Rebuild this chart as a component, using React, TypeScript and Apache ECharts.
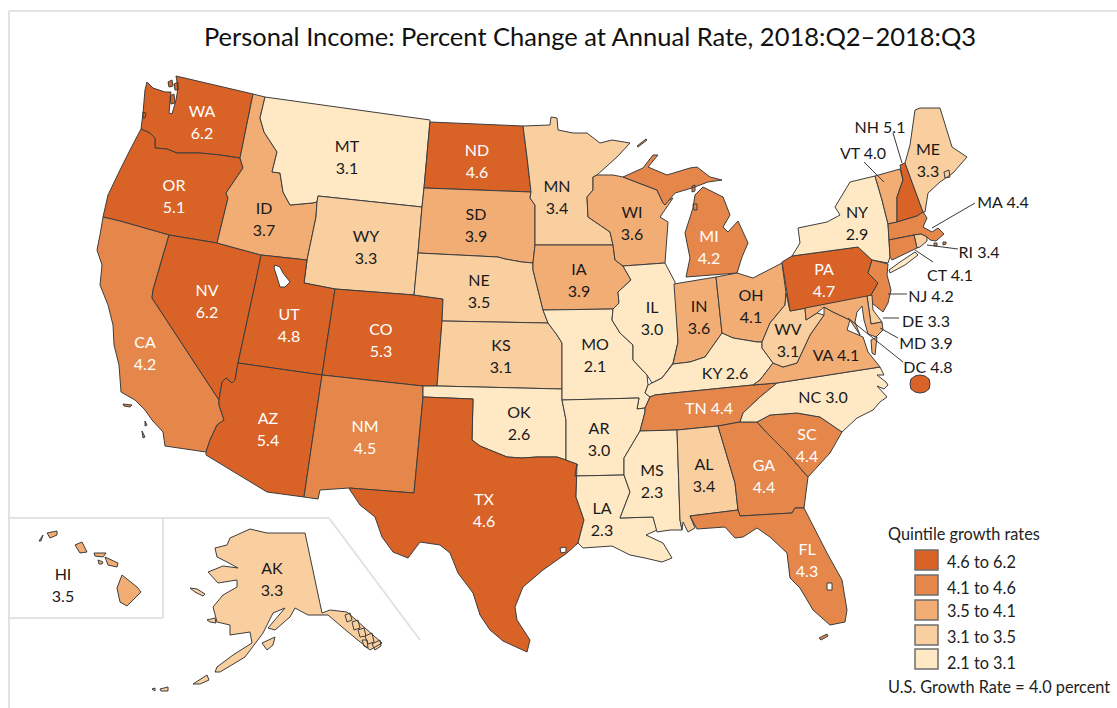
import React, { useEffect, useRef } from "react";
import * as echarts from "echarts";

const FONT = "Lato, 'Open Sans', sans-serif";
const titleText = "Personal Income: Percent Change at Annual Rate, 2018:Q2–2018:Q3";
const legendTitle = "Quintile growth rates";
const legendNote = "U.S. Growth Rate = 4.0 percent";
const quintileLabels = ["4.6 to 6.2", "4.1 to 4.6", "3.5 to 4.1", "3.1 to 3.5", "2.1 to 3.1"];
const quintileColors = ["#D96227", "#E5874B", "#F2AD75", "#F9CFA0", "#FFE9C5"];
const quintileText = ["#FFFFFF", "#FFFFFF", "#1A1A1A", "#1A1A1A", "#1A1A1A"];

const stateCodes = ["WA","OR","CA","NV","ID","MT","WY","UT","AZ","CO","NM","ND","SD","NE","KS","OK","TX","MN","IA","MO","AR","LA","WI","IL","MI","IN","OH","KY","TN","MS","AL","GA","FL","SC","NC","VA","WV","PA","NY","VT","NH","ME","MA","RI","CT","NJ","DE","MD","DC","AK","HI"];
const stateRates = ["6.2","5.1","4.2","6.2","3.7","3.1","3.3","4.8","5.4","5.3","4.5","4.6","3.9","3.5","3.1","2.6","4.6","3.4","3.9","2.1","3.0","2.3","3.6","3.0","4.2","3.6","4.1","2.6","4.4","2.3","3.4","4.4","4.3","4.4","3.0","4.1","3.1","4.7","2.9","4.0","5.1","3.3","4.4","3.4","4.1","4.2","3.3","3.9","4.8","3.3","3.5"];
const stateQuintiles = [0,0,1,0,2,4,3,0,0,0,1,0,2,3,3,4,0,3,2,4,4,4,2,4,1,2,2,4,1,4,3,1,1,1,4,2,3,0,4,2,0,3,1,3,1,1,3,2,0,3,2];
const oneLineStates = ["KY","VA","TN","NC","NH","VT","MA","RI","CT","NJ","DE","MD","DC"];

// Outline geometry of the map, in picture units: state -> polygons -> rings (first ring outer, others holes).
const P = (...a: number[]) => { const r: number[][] = []; for (let i = 0; i < a.length; i += 2) r.push([a[i], a[i + 1]]); return r; };
const shapes: Record<string, number[][][][]> = {
  WA: [[P(147,82,153,88,165,92,171,92,169,113,172,114,176,100,178,88,176,76,253,94,240,158,220,155,200,153,177,153,167,149,155,148,155,138,150,133,141,129,143,113,145,90)],[P(168,82,172,80,173,86,169,87)],[P(174,84,178,82,178,90,175,90)],[P(170,96,174,94,175,103,171,104)],[P(143,112,146,113,145,118,143,118)]],
  OR: [[P(141,129,150,133,155,138,155,148,167,149,177,153,200,153,220,155,240,158,243,168,226,193,228,198,217,243,169,235,120,221,103,217,108,195,120,170,130,150)]],
  CA: [[P(103,217,120,221,169,235,153,290,152,298,219,400,219,405,224,420,217,425,210,440,206,452,165,446,163,432,152,420,145,410,135,400,121,392,119,365,114,345,113,325,108,305,100,285,102,265,97,250,100,235)],[P(123,404,132,405,130,407,124,406)],[P(145,421,147,425,145,426)],[P(142,431,145,437,143,438)]],
  NV: [[P(169,235,217,243,261,255,256,280,238,363,235,380,232,383,226,378,222,382,219,400,152,298,153,290)]],
  ID: [[P(253,94,265,97,260,118,264,132,277,152,272,172,280,173,283,192,290,205,312,203,317,202,316,217,307,260,261,255,217,243,228,198,226,193,243,168,240,158)]],
  MT: [[P(265,97,430,120,424,188,422,207,318,196,317,202,312,203,290,205,283,192,280,173,272,172,277,152,264,132,260,118)]],
  WY: [[P(318,196,422,207,418,253,414,295,335,289,304,283,307,260,316,217,317,202)]],
  UT: [[P(261,255,307,260,304,283,335,289,322,375,238,363,256,280),P(275,265,280,267,283,273,290,282,285,287,280,287,277,277,274,268)]],
  AZ: [[P(238,363,322,375,304,497,267,492,206,455,206,452,210,440,217,425,224,420,219,405,219,400,222,382,226,378,232,383,235,380)]],
  CO: [[P(335,289,414,295,443,299,442,321,437,386,423,386,322,375)]],
  NM: [[P(322,375,423,386,423,397,414,493,349,488,320,490,318,499,304,497)]],
  ND: [[P(430,122,523,126,527,157,531,192,424,188)]],
  SD: [[P(424,188,531,192,530,198,535,205,535,245,533,263,522,262,505,259,498,257,418,253,422,207)]],
  NE: [[P(418,253,498,257,505,259,522,262,533,263,533,270,538,290,543,310,548,323,442,321,443,299,414,295)]],
  KS: [[P(442,321,548,323,557,335,562,343,562,389,437,386)]],
  OK: [[P(423,386,437,386,562,389,562,400,566,420,566,460,557,457,537,457,522,458,507,457,480,446,472,440,473,399,423,397)]],
  TX: [[P(423,397,473,399,472,440,480,446,507,457,522,458,537,457,557,457,566,460,577,464,576,497,584,520,578,543,567,553,543,570,523,587,515,607,517,620,530,640,527,652,503,641,490,630,480,615,473,593,458,573,450,553,440,545,420,542,408,558,393,552,382,537,375,517,360,505,350,490,349,488,414,493),P(560,548,566,547,566,552,561,553)]],
  MN: [[P(523,126,550,125,551,117,557,118,558,130,573,133,587,133,600,143,612,140,630,143,617,157,597,175,593,177,593,190,587,197,588,217,610,232,613,245,535,245,535,205,530,198,531,192,527,157)]],
  IA: [[P(535,245,613,245,615,260,623,266,631,280,618,292,619,303,613,309,543,310,538,290,533,270,533,263)]],
  MO: [[P(543,310,613,309,612,320,620,333,633,345,633,360,647,375,648,385,645,393,650,397,645,408,637,409,639,398,562,400,562,389,562,343,557,335,548,323)]],
  AR: [[P(562,400,639,398,637,409,645,408,645,412,640,431,624,458,624,475,575,476,577,464,566,460,566,420)]],
  LA: [[P(575,476,624,475,630,492,620,518,653,517,657,530,646,535,663,543,672,558,662,562,645,558,630,555,612,546,583,548,578,543,584,520,576,497,577,464)]],
  WI: [[P(597,175,613,175,623,177,657,190,663,203,673,198,660,217,668,222,665,263,623,266,615,260,613,245,610,232,588,217,587,197,593,190,593,177)]],
  IL: [[P(623,266,665,263,675,282,678,342,673,363,662,378,652,383,647,375,633,360,633,345,620,333,612,320,613,309,619,303,618,292,631,280)]],
  MI: [[P(623,177,643,168,653,155,658,155,648,167,667,175,690,168,697,167,710,177,722,180,708,182,692,188,675,193,665,205,663,203,657,190)],[P(703,187,723,197,730,215,723,227,728,232,738,221,748,243,742,257,737,273,686,277,690,258,685,233,693,208,695,195)],[P(637,146,646,139,647,140,638,147)],[P(692,186,695,185,695,191,692,192)],[P(693,204,697,204,697,210,694,210)]],
  IN: [[P(674,284,716,277,722,333,705,357,690,362,673,364,678,342)]],
  OH: [[P(716,277,737,273,753,278,782,263,786,293,785,305,770,323,762,342,757,342,733,338,722,333)]],
  KY: [[P(650,397,645,393,648,385,652,383,662,378,673,364,690,362,705,357,722,333,733,338,757,342,762,342,762,348,773,363,760,380,753,385,673,393,655,395)]],
  TN: [[P(650,397,655,395,673,393,753,385,777,383,760,397,743,413,740,422,718,426,677,430,640,431,645,412,645,408)]],
  MS: [[P(640,431,677,430,680,520,682,530,670,530,657,532,653,517,620,518,630,492,624,475,624,458)]],
  AL: [[P(677,430,718,426,735,483,738,510,690,516,695,528,688,532,683,522,682,530,680,520)]],
  GA: [[P(718,426,740,422,757,422,767,433,787,453,808,477,804,508,795,508,792,513,740,516,738,510,735,483)]],
  FL: [[P(690,516,738,510,740,516,792,513,795,508,804,508,827,553,842,580,847,610,845,622,830,625,813,610,800,588,790,578,787,553,770,537,757,528,743,537,735,538,725,527,697,529),P(827,583,832,583,832,590,827,590)],[P(819,638,827,634,828,636,821,640)]],
  SC: [[P(757,422,770,415,797,413,820,417,842,432,830,453,808,477,787,453,767,433)]],
  NC: [[P(777,383,880,367,884,375,877,375,886,382,888,385,884,389,877,386,887,397,880,402,873,410,857,418,842,432,820,417,797,413,770,415,757,422,740,422,743,413,760,397)]],
  VA: [[P(824,307,833,312,850,320,847,330,863,337,868,352,880,367,777,383,753,385,760,380,773,363,783,367,797,363,803,350,810,335,824,315)],[P(877,337,875,355,872,353,871,340)]],
  WV: [[P(786,293,790,311,805,308,806,320,817,313,824,315,810,335,803,350,797,363,783,367,773,363,762,348,762,342,770,323,785,305)]],
  PA: [[P(782,262,792,256,858,247,872,260,868,273,878,283,870,297,790,311)]],
  NY: [[P(792,256,800,243,798,228,827,222,840,215,835,207,850,182,875,176,882,200,888,224,889,240,890,257,888,263,872,260,858,247)],[P(889,270,900,262,915,252,918,255,905,265,890,273)]],
  VT: [[P(875,176,900,169,903,180,897,197,897,222,888,224,882,200)]],
  NH: [[P(900,165,905,163,923,212,917,216,897,222,897,197,903,180)]],
  ME: [[P(905,163,910,145,915,110,920,108,940,108,952,147,967,157,953,173,940,182,928,193,925,212,923,212)],[P(944,172,949,170,950,177,945,178)]],
  MA: [[P(888,224,897,222,917,216,923,212,927,218,923,227,932,232,938,228,944,234,936,241,930,240,927,237,921,234,914,235,889,240)],[P(943,242,946,242,946,244,943,245)],[P(934,243,937,243,937,246,934,246)]],
  RI: [[P(914,235,921,234,927,237,927,241,920,247,917,248)]],
  CT: [[P(889,240,914,235,917,248,892,260,890,257)]],
  NJ: [[P(872,260,888,264,887,275,891,290,888,303,883,312,872,303,870,297,878,283,868,273)]],
  DE: [[P(867,296,872,295,873,310,882,322,871,324)]],
  MD: [[P(805,308,867,296,871,324,882,322,883,330,876,337,868,334,864,320,862,306,857,312,855,322,860,335,850,320,833,312,824,307,817,313,806,320)]],
  DC: [[P(930,384,929,379,925,376,920,375,915,376,911,379,910,384,911,389,915,392,920,393,925,392,929,389)]],
  AK: [[P(250,529,267,533,287,533,305,533,322,613,330,610,347,612,382,643,370,650,348,632,328,615,308,615,295,608,290,617,275,630,268,628,285,608,273,613,263,633,245,657,220,672,215,672,217,667,233,655,252,643,250,632,230,635,230,625,217,622,213,607,223,595,237,587,237,580,218,583,208,572,223,566,238,568,227,562,217,557,215,548,227,545,230,538)],[P(345,615,350,613,352,620,347,622)],[P(352,622,358,620,360,628,354,630)],[P(358,630,364,628,366,636,360,637)],[P(365,636,372,633,374,642,368,644)],[P(372,644,380,640,381,646,375,650)],[P(362,640,367,640,368,648,364,646)],[P(190,588,197,589,205,594,203,596,195,592)],[P(207,620,215,618,216,623,210,622)],[P(262,643,275,637,273,645,267,650)],[P(193,684,207,675,209,680,200,684)],[P(160,689,168,687,168,691,161,691)],[P(152,689,155,688,155,691)]],
  HI: [[P(122,575,137,587,141,592,127,606,120,602,117,588)],[P(105,557,118,563,117,567,108,565)],[P(94,553,106,553,103,557,95,556)],[P(98,560,103,562,102,564,99,564)],[P(75,545,82,542,87,552,80,553)],[P(47,533,57,531,57,535,50,538)],[P(39,541,43,535,41,541)]],
};

// Anchor of each state's label, in picture units.
const labelAnchors: Record<string, number[]> = {
  WA:[202,121],OR:[174,195],MT:[347,156],ID:[264,218],WY:[366,246],NV:[207,300],UT:[289,324],CO:[381,339],CA:[145,352],AZ:[268,428],NM:[365,436],ND:[477,160],SD:[476,224],NE:[479,290],KS:[501,355],OK:[519,422],TX:[484,509],MN:[557,196],IA:[579,279],MO:[595,354],AR:[599,438],LA:[602,518],WI:[632,222],IL:[652,317],MI:[709,246],IN:[699,316],OH:[751,305],PA:[824,279],NY:[857,222],ME:[928,159],WV:[788,339],MS:[652,480],AL:[704,474],GA:[764,475],SC:[807,444],FL:[807,559],HI:[63,584],AK:[272,578],KY:[725,372],VA:[836,354],TN:[709,407],NC:[823,396],NH:[880,126],VT:[863,152],MA:[1003,201],RI:[979,251],CT:[950,274],NJ:[931,295],DE:[926,320],MD:[926,342],DC:[928,366],
};

const leaderLines = [[893,133,902,163],[864,162,884,182],[975,203,932,228],[958,249,927,245],[933,262,915,250],[907,294,888,294],[899,318,883,318],[898,338,880,328],[903,362,848,318]];
const frameLines = [[9,11,1117,11],[9,11,9,708],[9,518,329,518],[163,518,163,618],[9,618,163,618],[329,518,420,640]];

const area = (r: number[][]) => r.reduce((s, p, i) => { const q = r[(i + 1) % r.length]; return s + p[0] * q[1] - q[0] * p[1]; }, 0);
const closeRing = (r: number[][]) => [...r, r[0]];

function buildGeoJSON() {
  return {
    type: "FeatureCollection",
    features: stateCodes.map((code) => ({
      type: "Feature",
      properties: { name: code, cp: labelAnchors[code] },
      geometry: {
        type: "MultiPolygon",
        coordinates: shapes[code].map((poly) =>
          poly.map((ring, i) => {
            const wantPositive = i === 0;
            const r = (area(ring) > 0) === wantPositive ? ring : [...ring].reverse();
            return closeRing(r);
          })
        ),
      },
    })),
  };
}

export default function App() {
  const ref = useRef<HTMLDivElement>(null);
  useEffect(() => {
    document.body.style.margin = "0";
    echarts.registerMap("usaPicture", buildGeoJSON() as any);
    const chart = echarts.init(ref.current!, null, { renderer: "svg" });
    const graphic: any[] = [];
    frameLines.forEach((l) =>
      graphic.push({ type: "line", z: 0, silent: true, shape: { x1: l[0], y1: l[1], x2: l[2], y2: l[3] }, style: { stroke: "#E2E2E2", lineWidth: 2 } })
    );
    leaderLines.forEach((l) =>
      graphic.push({ type: "line", z: 10, silent: true, shape: { x1: l[0], y1: l[1], x2: l[2], y2: l[3] }, style: { stroke: "#3A3A3A", lineWidth: 1 } })
    );
    const textStyle = { fill: "#222222", fontFamily: FONT, fontSize: 16.3, verticalAlign: "middle" };
    graphic.push({ type: "text", z: 10, x: 888, y: 533, silent: true, style: { ...textStyle, text: legendTitle } });
    graphic.push({ type: "text", z: 10, x: 888, y: 686, silent: true, style: { ...textStyle, text: legendNote } });
    const swatchY = [550, 575, 600, 625, 649];
    const labelY = [561, 587, 610, 636, 662];
    quintileLabels.forEach((t, i) => {
      graphic.push({ type: "rect", z: 10, silent: true, shape: { x: 915, y: swatchY[i], width: 23, height: 20 }, style: { fill: quintileColors[i], stroke: "#6E6E6E", lineWidth: 1.5 } });
      graphic.push({ type: "text", z: 10, x: 947, y: labelY[i], silent: true, style: { ...textStyle, text: t } });
    });
    chart.setOption({
      animation: false,
      backgroundColor: "#FFFFFF",
      title: {
        text: titleText,
        left: 585,
        top: 31,
        textAlign: "center",
        textVerticalAlign: "middle",
        textStyle: { fontFamily: FONT, fontSize: 25.5, fontWeight: "normal", color: "#111111" },
      },
      graphic,
      series: [
        {
          type: "map",
          map: "usaPicture",
          projection: { project: (p: number[]) => p, unproject: (p: number[]) => p },
          boundingCoords: [[0, 0], [1117, 708]],
          left: 0,
          top: 0,
          width: 1117,
          height: 708,
          roam: false,
          silent: true,
          selectedMode: false,
          showLegendSymbol: false,
          emphasis: { disabled: true },
          itemStyle: { borderColor: "#3D3D3D", borderWidth: 1 },
          label: {
            show: true,
            fontFamily: FONT,
            fontSize: 16,
            lineHeight: 22,
            formatter: (p: any) => (p.data.oneLine ? `${p.name} ${p.data.rate}` : `${p.name}\n${p.data.rate}`),
          },
          data: stateCodes.map((code, i) => ({
            name: code,
            value: Number(stateRates[i]),
            rate: stateRates[i],
            oneLine: oneLineStates.includes(code),
            itemStyle: { areaColor: quintileColors[stateQuintiles[i]], color: quintileColors[stateQuintiles[i]] },
            label: { color: oneLineStates.includes(code) && code !== "TN" ? "#1A1A1A" : quintileText[stateQuintiles[i]] },
          })),
        },
      ],
    });
    return () => chart.dispose();
  }, []);
  return <div ref={ref} style={{ width: 1117, height: 708, position: "absolute", left: 0, top: 0 }} />;
}
